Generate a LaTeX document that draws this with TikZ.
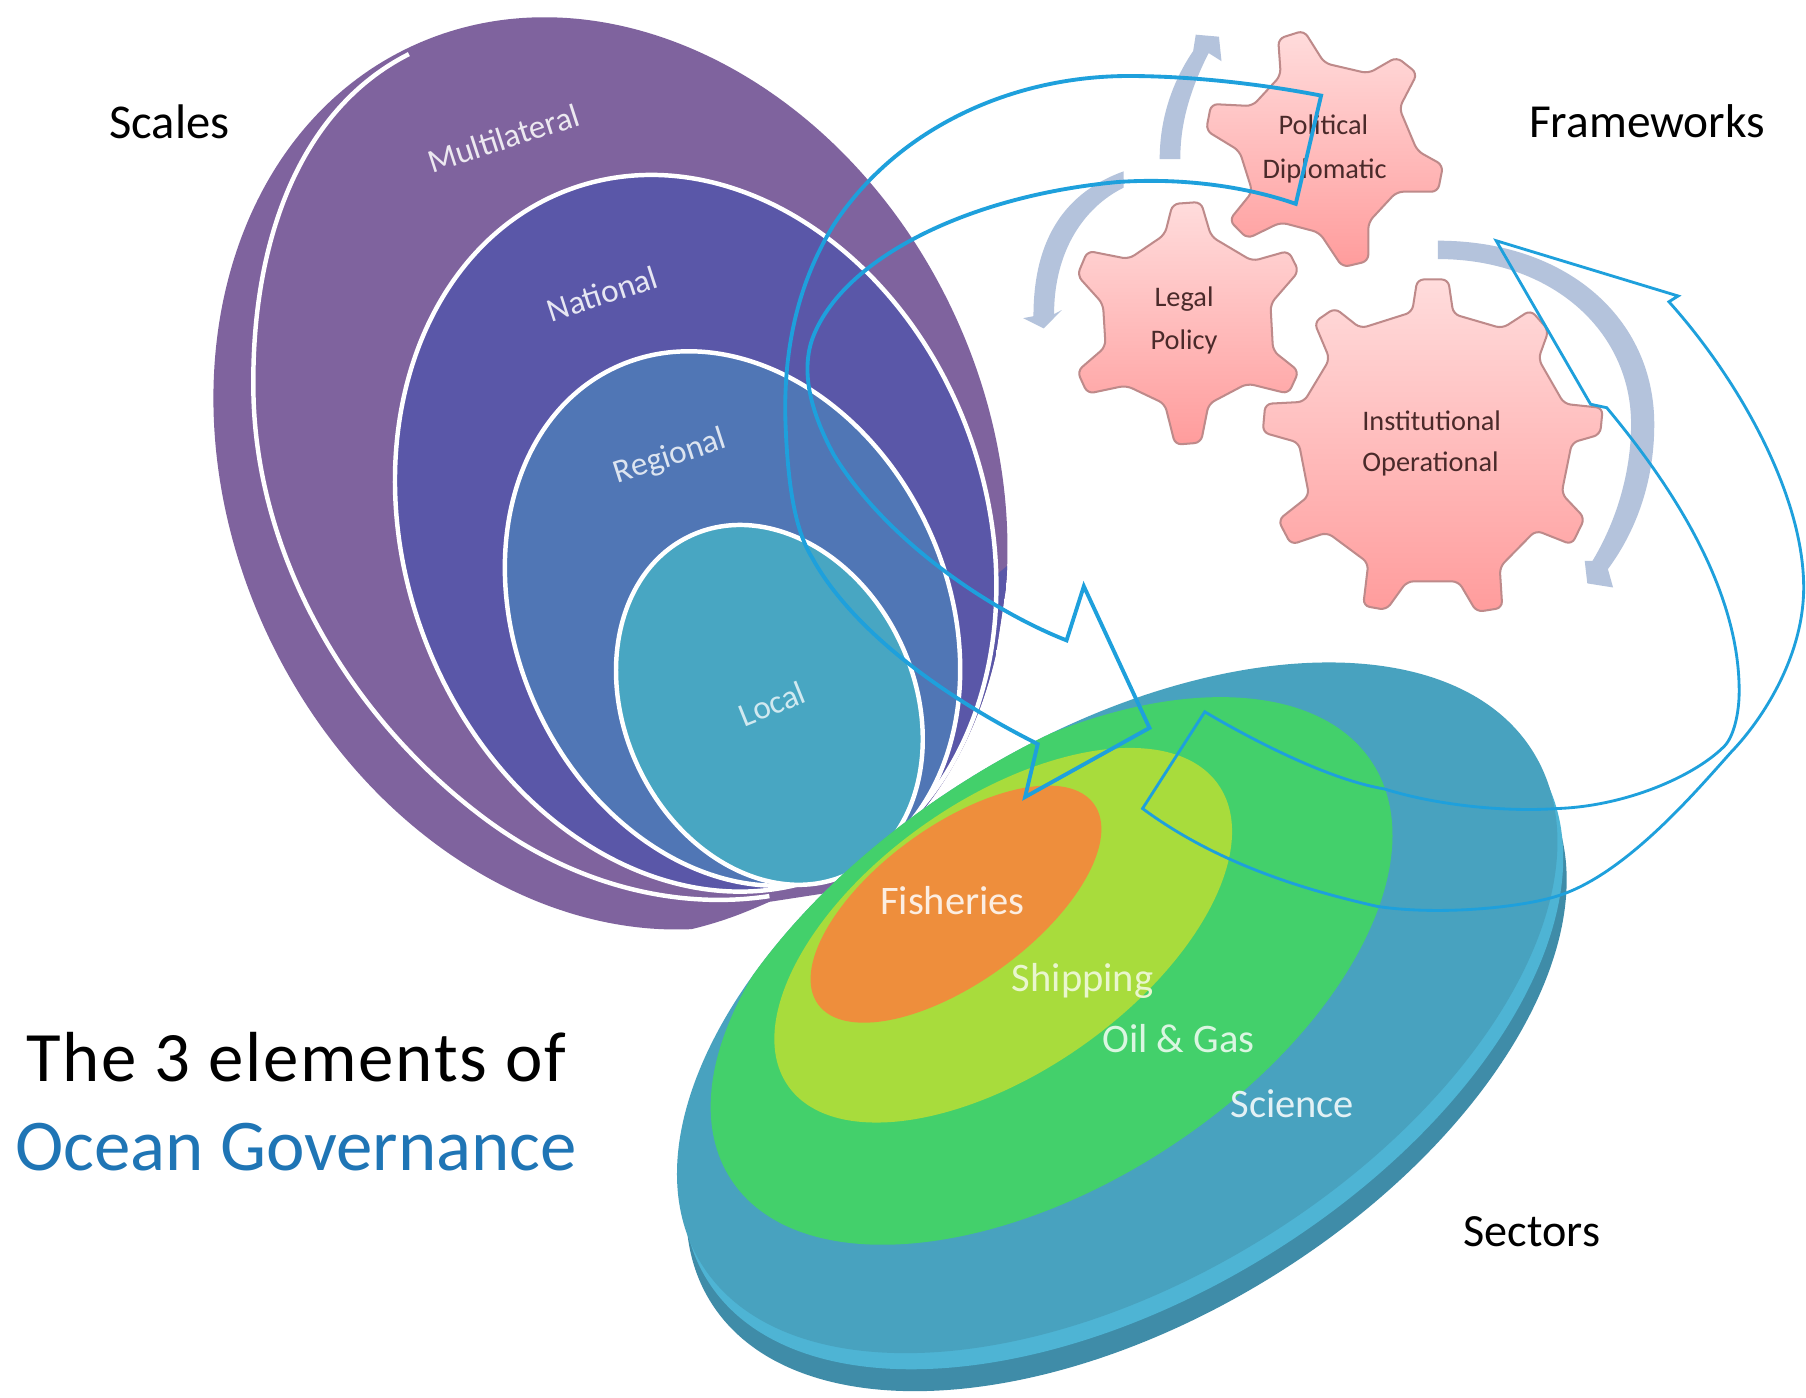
\documentclass[tikz,border=0pt]{standalone}
\usepackage{fontspec}
\setmainfont{Carlito}
\definecolor{pMulti}{HTML}{7F639E}
\definecolor{pNat}{HTML}{5A57A8}
\definecolor{pReg}{HTML}{5076B5}
\definecolor{pLoc}{HTML}{48A6C2}
\definecolor{dTop}{HTML}{48A2BF}
\definecolor{dLight}{HTML}{4EB4D4}
\definecolor{dDark}{HTML}{3F8CA8}
\definecolor{sGreen}{HTML}{43D06B}
\definecolor{sYellow}{HTML}{A8DC3C}
\definecolor{sOrange}{HTML}{EE8E3C}
\definecolor{gTop}{HTML}{FFDCDC}
\definecolor{gBot}{HTML}{FF9C9C}
\definecolor{gEdge}{HTML}{BE8A8A}
\definecolor{swirl}{HTML}{B4C3DC}
\definecolor{flow}{HTML}{1EA0DC}
\definecolor{oceanblue}{HTML}{1F75B5}
\definecolor{gText}{HTML}{4A2A2A}
\tikzset{
  ringline/.style={draw=white,line width=1.1pt},
  gear/.style={top color=gTop,bottom color=gBot,draw=gEdge,line width=.5pt,rounded corners=1.6pt},
  swirlarrow/.style={fill=swirl,draw=none},
  flowarrow/.style={draw=flow,line width=.95pt,line join=miter},
  scalelabel/.style={text=#1,font=\fontsize{8.2}{10}\selectfont,rotate=18,inner sep=0pt},
  gearlabel/.style={text=gText,font=\fontsize{7}{8}\selectfont,inner sep=0pt},
  sectorlabel/.style={text=#1,font=\fontsize{10}{12}\selectfont,inner sep=0pt},
  heading/.style={text=black,font=\fontsize{11.7}{14}\selectfont,inner sep=0pt},
  zA/.style={shift={(868.2,0)},x=0.004464cm,y=-0.003544cm},
}
\begin{document}
\begin{tikzpicture}[x=0.01cm,y=-0.01cm]
\path[use as bounding box,fill=white] (0,0) rectangle (1568,1213);
\clip (0,0) rectangle (1568,1213);
% ---- scales: nested tilted ellipses trimmed along their lower right
\begin{scope}
\clip (0,0) -- (1000,0) -- (1000,300) -- (878,480) -- (863,579) .. controls (852,615) and (845,640) .. (832,668) .. controls (818,695) and (805,715) .. (785,737) -- (720,775) -- (668,783) .. controls (645,793) and (620,804) .. (575,812) -- (570,830) -- (0,830) -- cycle;
\fill[pMulti,rotate around={25:(530,411)}] (530,411) ellipse (329 and 409);
\begin{scope}
\clip (900,470) -- (840,520) -- (760,800) -- (900,800) -- cycle;
\fill[pNat,rotate around={25:(530,411)}] (530,411) ellipse (329 and 409);
\end{scope}
\draw[ringline] (355,47) .. controls (260,95) and (218,210) .. (220,340) .. controls (222,480) and (300,620) .. (420,710) .. controls (500,770) and (590,790) .. (668,778);
\fill[pNat,draw=white,line width=1.1pt,rotate around={20:(604,463)}] (604,463) ellipse (252.5 and 318);
\fill[pReg,draw=white,line width=1.1pt,rotate around={25:(636,537)}] (636,537) ellipse (187 and 240.6);
\fill[pLoc,draw=white,line width=1.1pt,rotate around={25:(668,612)}] (668,612) ellipse (126 and 162);
\end{scope}
% ---- sectors disc
\fill[dDark,rotate around={31.5:(978,908)}] (978,908) ellipse (424 and 237);
\fill[dLight,rotate around={31.5:(975,889)}] (975,889) ellipse (424 and 237);
\fill[dTop,rotate around={31.5:(970,875)}] (970,875) ellipse (424 and 237);
\begin{scope}
\clip[rotate around={31.5:(970,875)}] (970,875) ellipse (424 and 237);
\fill[sGreen,rotate around={33:(913,843)}] (913,843) ellipse (332 and 184);
\end{scope}
\fill[sYellow,rotate around={35:(871,812)}] (871,812) ellipse (228 and 118);
\fill[sOrange,rotate around={36:(830,785)}] (830,785) ellipse (148 and 68);
% ---- gears and swirl arrows
\begin{scope}[zA]
\fill[swirlarrow] (310,390) .. controls (310,280) and (340,190) .. (375,125) -- (380,85) -- (425,90) -- (430,150) -- (405,130) .. controls (365,230) and (350,310) .. (350,390) -- cycle;
\fill[swirlarrow] (240,420) .. controls (130,470) and (65,580) .. (65,775) -- (45,780) -- (85,805) -- (120,760) -- (105,770) .. controls (105,620) and (160,510) .. (240,460) -- cycle;
\fill[swirlarrow] (850,590) .. controls (1100,590) and (1270,780) .. (1270,1040) .. controls (1270,1190) and (1230,1310) .. (1180,1395) -- (1190,1440) -- (1140,1430) -- (1135,1375) -- (1150,1375) .. controls (1200,1270) and (1225,1150) .. (1225,1040) .. controls (1225,810) and (1070,635) .. (850,635) -- cycle;
\path[gear] (540,95) -- (590,75) -- (630,155) -- (715,180) -- (770,140) -- (810,180) -- (775,265) -- (810,370) -- (860,405) -- (850,470) -- (770,470) -- (715,545) -- (715,640) -- (665,655) -- (620,570) -- (545,545) -- (480,585) -- (445,540) -- (490,470) -- (465,370) -- (400,320) -- (410,255) -- (490,260) -- (545,185) -- cycle;
\path[gear] (335,500) -- (390,495) -- (410,580) -- (490,640) -- (560,615) -- (580,665) -- (525,745) -- (530,860) -- (580,910) -- (560,965) -- (480,940) -- (405,990) -- (390,1085) -- (340,1090) -- (320,990) -- (245,945) -- (170,965) -- (150,910) -- (205,850) -- (200,745) -- (150,675) -- (170,615) -- (250,635) -- (320,575) -- cycle;
\path[gear] (810,685) -- (870,685) -- (880,770) -- (975,805) -- (1030,760) -- (1065,810) -- (1045,880) -- (1095,990) -- (1170,1000) -- (1165,1065) -- (1110,1085) -- (1090,1210) -- (1135,1270) -- (1110,1335) -- (1040,1300) -- (970,1390) -- (975,1490) -- (925,1500) -- (890,1425) -- (790,1425) -- (750,1495) -- (705,1485) -- (715,1380) -- (635,1305) -- (565,1335) -- (540,1275) -- (600,1215) -- (580,1085) -- (510,1060) -- (515,990) -- (590,985) -- (640,880) -- (610,790) -- (650,755) -- (700,805) -- (800,765) -- cycle;
\end{scope}
% ---- labels under the flows
\node[scalelabel=white!85!pMulti] (multi) at (437,120) {Multilateral};
\node[scalelabel=white!85!pNat] (nat) at (523,255) {National};
\node[scalelabel=white!80!pReg] (reg) at (582,397) {Regional};
\node[scalelabel=white!75!pLoc,rotate=4] (loc) at (670,611) {Local};
\node[gearlabel] (pol) at (1149,108) {Political};
\node[gearlabel] (dip) at (1150,148) {Diplomatic};
\node[gearlabel] (leg) at (1028,260) {Legal};
\node[gearlabel] (pcy) at (1028,297) {Policy};
\node[gearlabel] (ins) at (1243,365) {Institutional};
\node[gearlabel] (ope) at (1242,403) {Operational};
% ---- big flow arrows
\draw[flowarrow] (1147,83) .. controls (1090,72) and (1030,66) .. (980,66)
  .. controls (880,66) and (780,110) .. (724,195)
  .. controls (690,250) and (680,310) .. (682,368)
  .. controls (684,420) and (690,460) .. (705,484)
  .. controls (730,530) and (790,590) .. (901,646)
  -- (890,692) -- (998,632) -- (941,509) -- (926,556)
  .. controls (860,530) and (770,470) .. (724,395)
  .. controls (705,360) and (695,325) .. (705,295)
  .. controls (730,225) and (840,170) .. (971,158)
  .. controls (1030,154) and (1085,163) .. (1125,177) -- cycle;
\draw[flowarrow,line width=.7pt] (1299,209) -- (1457,257) -- (1449,262)
  .. controls (1510,330) and (1566,430) .. (1566,510)
  .. controls (1566,570) and (1530,625) .. (1503,653)
  .. controls (1470,690) and (1410,760) .. (1352,778)
  .. controls (1320,788) and (1250,795) .. (1196,787)
  .. controls (1120,770) and (1050,745) .. (992,702)
  -- (1046,618)
  .. controls (1100,650) and (1160,678) .. (1202,685)
  .. controls (1250,700) and (1310,705) .. (1352,702)
  .. controls (1410,700) and (1470,675) .. (1497,648)
  .. controls (1505,640) and (1510,620) .. (1510,600)
  .. controls (1510,510) and (1450,420) .. (1395,354)
  -- (1381,351) -- cycle;
% ---- remaining labels
\node[sectorlabel=white!85!sOrange] (fis) at (827,782) {Fisheries};
\node[sectorlabel=white!75!sYellow] (shi) at (940,852) {Shipping};
\node[sectorlabel=white!80!sGreen] (oil) at (1023,902) {Oil \& Gas};
\node[sectorlabel=white!85!dTop] (sci) at (1122,958) {Science};
\node[heading,font=\fontsize{12}{14}\selectfont] (sca) at (147,106) {Scales};
\node[heading] (fra) at (1430,105) {Frameworks};
\node[heading,font=\fontsize{11.4}{14}\selectfont] (sec) at (1330,1069) {Sectors};
\node[text=black,font=\fontsize{17.5}{20}\selectfont\addfontfeature{LetterSpace=2.5},inner sep=0pt] (t1) at (257,918) {The 3 elements of};
\node[text=oceanblue,font=\fontsize{18}{20}\selectfont,inner sep=0pt] (t2) at (257,996) {Ocean Governance};
\end{tikzpicture}
\end{document}
